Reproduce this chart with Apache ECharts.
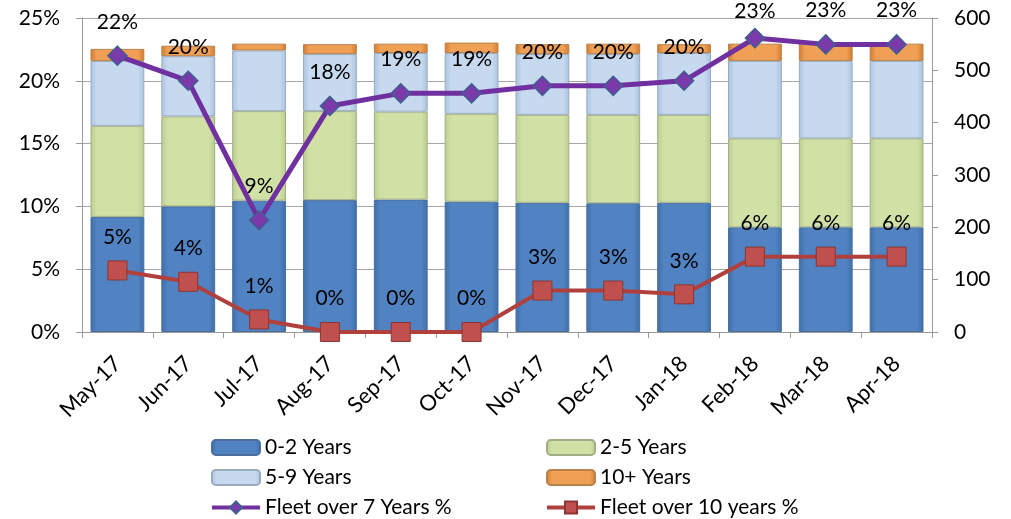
<!DOCTYPE html>
<html>
<head>
<meta charset="utf-8">
<script src="https://cdn.jsdelivr.net/npm/echarts@6/dist/echarts.min.js"></script>
<style>
  html, body { margin: 0; padding: 0; background: #ffffff; }
  #chart { width: 1011px; height: 519px; }
</style>
</head>
<body>
<div id="chart"></div>
<script>
// Monthly fleet composition by age band (vehicle counts, right axis)
var months = ['May-17', 'Jun-17', 'Jul-17', 'Aug-17', 'Sep-17', 'Oct-17',
              'Nov-17', 'Dec-17', 'Jan-18', 'Feb-18', 'Mar-18', 'Apr-18'];
var years0to2  = [220, 240, 251, 252, 253, 249, 247, 246, 247, 200, 200, 200];
var years2to5  = [174, 172, 171, 170, 168, 168, 168, 169, 168, 170, 170, 170];
var years5to9  = [124, 115, 116, 109, 112, 116, 116, 116, 118, 148, 148, 148];
var years10up  = [23, 20, 13, 19, 18, 20, 19, 20, 17, 33, 33, 33];

// Share of fleet above age thresholds (percent, left axis)
var over7Pct  = [22.0, 20.0, 8.9, 18.0, 19.0, 19.0, 19.6, 19.6, 20.0, 23.4, 22.9, 22.9];
var over10Pct = [4.9, 4.0, 1.0, 0.0, 0.0, 0.0, 3.3, 3.3, 3.0, 6.0, 6.0, 6.0];

// Axis ticks
var pctTicks = [0, 5, 10, 15, 20, 25];
var countTicks = [0, 100, 200, 300, 400, 500, 600];

var FONT = 'Lato, "Open Sans", sans-serif';

function barSeries(name, data, fill, border) {
  return {
    name: name,
    type: 'bar',
    stack: 'fleet',
    yAxisIndex: 1,
    barCategoryGap: '24%',
    data: data,
    itemStyle: {
      color: {
        type: 'linear', x: 0, y: 0, x2: 1, y2: 0,
        colorStops: [
          { offset: 0, color: fill[0] },
          { offset: 0.12, color: fill[1] },
          { offset: 0.88, color: fill[1] },
          { offset: 1, color: fill[0] }
        ]
      },
      borderColor: border,
      borderWidth: 1
    },
    z: 2
  };
}

function pctLabel(p) { return Math.round(p.value) + '%'; }

// The peak point's label sits closer to its marker so it stays inside the frame
var over7Data = over7Pct.map(function (v) {
  return v === Math.max.apply(null, over7Pct)
    ? { value: v, label: { distance: 6 } }
    : v;
});

var chart = echarts.init(document.getElementById('chart'), null, { renderer: 'canvas' });

var legendText = { fontFamily: FONT, fontSize: 21, color: '#000', lineHeight: 20 };

chart.setOption({
  animation: false,
  backgroundColor: '#ffffff',
  grid: { left: 82, right: 79, top: 18, bottom: 187, containLabel: false },
  legend: [
    {
      orient: 'vertical', left: 210, top: 437, padding: 0,
      itemWidth: 48, itemHeight: 15, itemGap: 9,
      textStyle: legendText,
      lineStyle: { width: 4 },
      selectedMode: false,
      data: ['0-2 Years', '5-9 Years', 'Fleet over 7 Years %']
    },
    {
      orient: 'vertical', left: 545, top: 437, padding: 0,
      itemWidth: 48, itemHeight: 15, itemGap: 9,
      textStyle: legendText,
      lineStyle: { width: 4 },
      selectedMode: false,
      data: ['2-5 Years', '10+ Years', 'Fleet over 10 years %']
    }
  ],
  xAxis: {
    type: 'category',
    data: months,
    boundaryGap: true,
    axisLine: { lineStyle: { color: '#9a9a9a', width: 1 } },
    axisTick: { show: true, length: 6, lineStyle: { color: '#9a9a9a' } },
    axisLabel: {
      rotate: 45, margin: 28, interval: 0,
      fontFamily: FONT, fontSize: 22, color: '#000'
    },
    splitLine: { show: false }
  },
  yAxis: [
    {
      type: 'value',
      position: 'left',
      min: pctTicks[0], max: pctTicks[pctTicks.length - 1], interval: 5,
      axisLine: { show: true, lineStyle: { color: '#9a9a9a' } },
      axisTick: { show: true, length: 6, lineStyle: { color: '#9a9a9a' } },
      axisLabel: {
        formatter: '{value}%', margin: 22,
        fontFamily: FONT, fontSize: 21, color: '#000'
      },
      splitLine: { show: true, lineStyle: { color: '#a6a6a6', width: 1 } }
    },
    {
      type: 'value',
      position: 'right',
      min: countTicks[0], max: countTicks[countTicks.length - 1], interval: 100,
      axisLine: { show: true, lineStyle: { color: '#9a9a9a' } },
      axisTick: { show: true, length: 6, lineStyle: { color: '#9a9a9a' } },
      axisLabel: {
        margin: 22, fontFamily: FONT, fontSize: 21, color: '#000'
      },
      splitLine: { show: false }
    }
  ],
  series: [
    barSeries('0-2 Years', years0to2, ['#3f6fa8', '#5182c2'], '#4a6f9c'),
    barSeries('2-5 Years', years2to5, ['#b9cc8e', '#d1e1a6'], '#9fae86'),
    barSeries('5-9 Years', years5to9, ['#aac3df', '#c6d9ef'], '#9aabbf'),
    barSeries('10+ Years', years10up, ['#d07a30', '#f0a054'], '#b8824e'),
    {
      name: 'Fleet over 7 Years %',
      type: 'line',
      yAxisIndex: 0,
      data: over7Data,
      symbol: 'diamond',
      symbolSize: 19,
      lineStyle: { color: '#7030a0', width: 5 },
      itemStyle: { color: '#7a3aaa', borderColor: '#3e5f8f', borderWidth: 1.5 },
      label: {
        show: true, position: 'top', distance: 13,
        formatter: pctLabel,
        fontFamily: FONT, fontSize: 21, color: '#000'
      },
      z: 5
    },
    {
      name: 'Fleet over 10 years %',
      type: 'line',
      yAxisIndex: 0,
      data: over10Pct,
      symbol: 'rect',
      symbolSize: 19,
      lineStyle: { color: '#b0403d', width: 4 },
      itemStyle: { color: '#c0504d', borderColor: '#8c3533', borderWidth: 1 },
      label: {
        show: true, position: 'top', distance: 13,
        formatter: pctLabel,
        fontFamily: FONT, fontSize: 21, color: '#000'
      },
      z: 4
    }
  ]
});
</script>
</body>
</html>
